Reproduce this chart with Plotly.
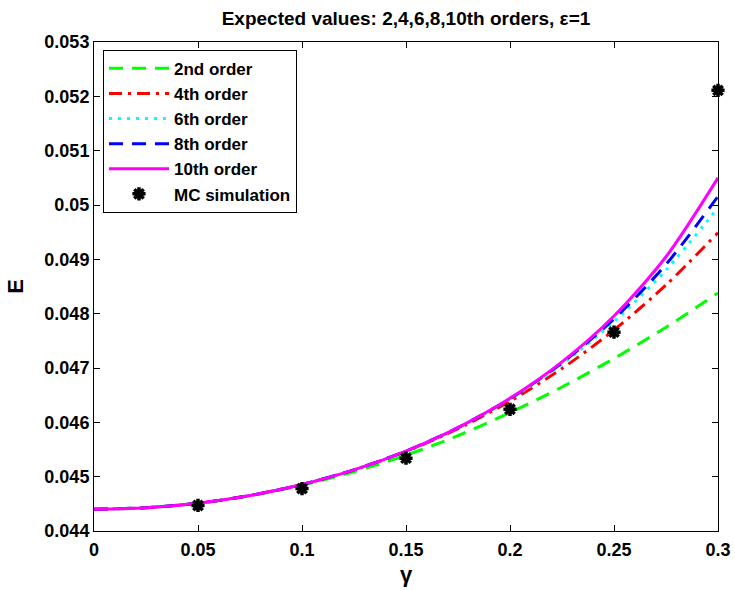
import plotly.graph_objects as go

# Perturbation parameter grid
gamma = [0.0, 0.025, 0.05, 0.075, 0.1, 0.125, 0.15, 0.175, 0.2, 0.225, 0.25, 0.275, 0.3]

# Expected value E for each truncation order
e_order2 = [0.04440, 0.044428, 0.044511, 0.044649, 0.044842, 0.045091, 0.045395,
            0.045754, 0.046180, 0.046650, 0.047175, 0.047750, 0.048380]
e_order4 = [0.04440, 0.044428, 0.044511, 0.044653, 0.044856, 0.045124, 0.045464,
            0.045882, 0.046388, 0.046990, 0.047699, 0.048528, 0.049490]
e_order6 = [0.04440, 0.044428, 0.044511, 0.044653, 0.044857, 0.045126, 0.045471,
            0.045900, 0.046428, 0.047072, 0.047853, 0.048801, 0.049950]
e_order8 = [0.04440, 0.044428, 0.044511, 0.044653, 0.044857, 0.045126, 0.045472,
            0.045903, 0.046436, 0.047093, 0.047902, 0.048906, 0.050160]
e_order10 = [0.04440, 0.044428, 0.044511, 0.044653, 0.044857, 0.045126, 0.045472,
             0.045904, 0.046442, 0.047112, 0.047957, 0.049048, 0.050500]

# Monte Carlo estimates
mc_gamma = [0.05, 0.1, 0.15, 0.2, 0.25, 0.3]
mc_e = [0.04447, 0.04478, 0.04534, 0.04624, 0.04766, 0.05211]

x_ticks = [0, 0.05, 0.1, 0.15, 0.2, 0.25, 0.3]
x_ticktext = ["0", "0.05", "0.1", "0.15", "0.2", "0.25", "0.3"]
y_ticks = [0.044, 0.045, 0.046, 0.047, 0.048, 0.049, 0.050, 0.051, 0.052, 0.053]
y_ticktext = ["0.044", "0.045", "0.046", "0.047", "0.048", "0.049", "0.05",
              "0.051", "0.052", "0.053"]

fig = go.Figure()

series = [
    ("2nd order", e_order2, "rgb(0,255,0)", "14px,9px"),
    ("4th order", e_order4, "rgb(255,0,0)", "13px,6px,3px,6px"),
    ("6th order", e_order6, "rgb(0,255,255)", "3px,6px"),
    ("8th order", e_order8, "rgb(0,0,255)", "14px,9px"),
    ("10th order", e_order10, "rgb(255,0,255)", "solid"),
]
for name, vals, color, dash in series:
    fig.add_trace(go.Scatter(
        x=gamma, y=vals, mode="lines", name=name,
        line=dict(color=color, width=3, dash=dash, shape="spline", smoothing=0.8),
    ))

fig.add_trace(go.Scatter(
    x=mc_gamma, y=mc_e, mode="markers", name="MC simulation",
    marker=dict(symbol="asterisk-open", size=11, color="black",
                line=dict(color="black", width=3.5)),
    cliponaxis=False,
))

axis_common = dict(
    showline=True, linecolor="black", linewidth=1, mirror="ticks",
    ticks="inside", ticklen=6, tickwidth=1, tickcolor="black",
    showgrid=False, zeroline=False, automargin=False,
    tickfont=dict(family="Liberation Sans", size=18, color="black", weight="bold"),
)

fig.update_layout(
    width=735, height=590,
    margin=dict(l=94, r=17, t=42, b=59),
    paper_bgcolor="white", plot_bgcolor="white",
    font=dict(family="Liberation Sans", size=18, color="black", weight="bold"),
    title=dict(
        text="Expected values: 2,4,6,8,10th orders, \u03b5=1",
        x=0.5, xref="paper", y=1 - 18 / 590, yref="container",
        xanchor="center", yanchor="middle",
        font=dict(family="Liberation Sans", size=19, color="black", weight="bold"),
    ),
    xaxis=dict(range=[0, 0.3], tickvals=x_ticks, ticktext=x_ticktext,
               title=dict(text="\u03b3", standoff=8), ticklabelstandoff=2,
               **axis_common),
    yaxis=dict(range=[0.044, 0.053], tickvals=y_ticks, ticktext=y_ticktext,
               title=dict(text="E", standoff=14), **axis_common),
    legend=dict(
        x=0.0144, y=0.984, xanchor="left", yanchor="top",
        bgcolor="white", bordercolor="black", borderwidth=1,
        font=dict(family="Liberation Sans", size=17, color="black", weight="bold"),
        itemwidth=60, tracegroupgap=0,
    ),
    showlegend=True,
)

fig.write_html("out.html")
